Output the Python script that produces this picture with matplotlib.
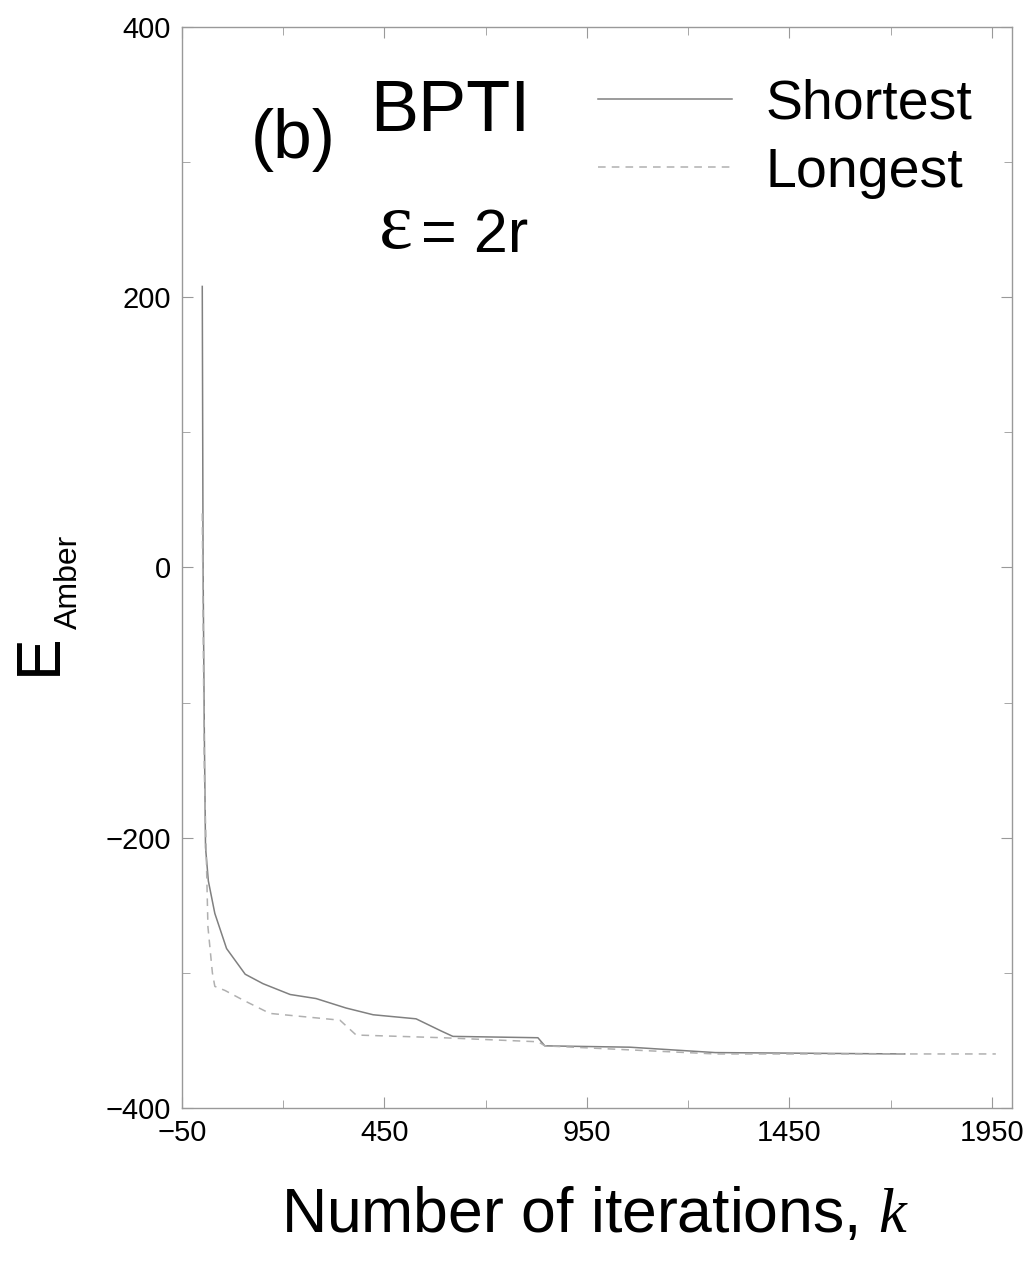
import matplotlib
matplotlib.use("Agg")
import matplotlib.pyplot as plt

plt.rcParams['font.family'] = ['Liberation Sans', 'DejaVu Sans']
plt.rcParams['mathtext.fontset'] = 'custom'
plt.rcParams['mathtext.it'] = 'Liberation Serif:italic'

# energy traces
shortest_k = [0, 2, 5, 8, 15, 31, 60, 106, 150, 217, 281, 355, 422, 528, 590, 619, 829, 846, 1056, 1267, 1735]
shortest_e = [208, 0, -120, -207, -232, -256, -282, -301, -308, -316, -319, -326, -331, -334, -343, -347, -348, -354, -355, -359, -360]

longest_k = [0, 5, 14, 25, 31, 56, 100, 167, 340, 380, 594, 830, 846, 1056, 1267, 1960]
longest_e = [40, -150, -266, -300, -310, -313, -320, -330, -335, -346, -348, -351, -354, -357, -360, -360]

xticks = [-50, 450, 950, 1450, 1950]
yticks = [-400, -200, 0, 200, 400]

fig = plt.figure(figsize=(10.29, 12.79), dpi=100)
ax = fig.add_axes([0.1769, 0.1337, 0.8066, 0.8452])

ax.plot(shortest_k, shortest_e, color='#808080', lw=1.1, ls='-', label='Shortest')
ax.plot(longest_k, longest_e, color='#b0b0b0', lw=1.1, ls=(0, (5, 4)), label='Longest')

ax.set_xlim(-50, 2000)
ax.set_ylim(-400, 400)
ax.set_xticks(xticks)
ax.set_yticks(yticks)
ax.set_xticks([200, 700, 1200, 1700], minor=True)
ax.set_yticks([-300, -100, 100, 300], minor=True)
ax.tick_params(which='both', direction='in', top=True, right=True, color='#999999',
               labelsize=21, pad=8)
ax.tick_params(which='major', length=8)
ax.tick_params(which='minor', length=6)
for s in ax.spines.values():
    s.set_color('#999999')
    s.set_linewidth(1.0)

leg = ax.legend(loc='upper right', bbox_to_anchor=(1.012, 0.999), frameon=False,
                fontsize=40, handlelength=2.4, handletextpad=0.6, labelspacing=0.3)

fig.text(0.285, 0.8905, '(b)', fontsize=50, ha='center', va='center')
fig.text(0.438, 0.912, 'BPTI', fontsize=52, ha='center', va='center')
fig.text(0.385, 0.821, '\u03b5', fontsize=58, family=['Liberation Serif', 'DejaVu Serif'],
         ha='center', va='center')
fig.text(0.409, 0.815, '= 2r', fontsize=44, ha='left', va='center')

fig.text(0.038, 0.4887, 'E', fontsize=45, rotation=90, ha='center', va='center')
fig.text(0.067, 0.545, 'Amber', fontsize=23, rotation=90, ha='center', va='center')

fig.text(0.578, 0.05, r'Number of iterations, $k$', fontsize=45, ha='center', va='center')

fig.savefig('out.png', dpi=100)
